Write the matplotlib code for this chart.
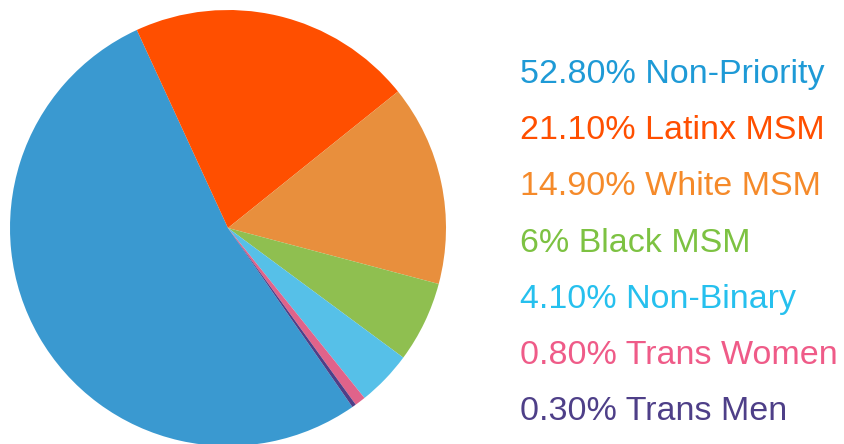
import matplotlib.pyplot as plt

labels = ["Non-Priority", "Latinx MSM", "White MSM", "Black MSM",
          "Non-Binary", "Trans Women", "Trans Men"]
values = [52.8, 21.1, 14.9, 6.0, 4.1, 0.8, 0.3]
pct_text = ["52.80%", "21.10%", "14.90%", "6%", "4.10%", "0.80%", "0.30%"]
slice_colors = ["#3a99d0", "#ff4f00", "#e88f3d", "#8fbf50",
                "#56c0e8", "#e0638a", "#4e3f88"]
text_colors = ["#1e9ad6", "#ff4f00", "#f58a2a", "#7dc242",
               "#26c0ee", "#ef5b88", "#4e3f88"]

W, H = 845, 444
fig = plt.figure(figsize=(W / 100, H / 100), dpi=100)

# pie box in pixels: centre (228, 228), radius 218
cx, cy, r = 228, 228, 218
ax = fig.add_axes([(cx - r) / W, (H - cy - r) / H, 2 * r / W, 2 * r / H])
ax.pie(values, colors=slice_colors, startangle=-55.2, counterclock=False,
       radius=1.0, wedgeprops=dict(linewidth=0))
ax.set_xlim(-1, 1)
ax.set_ylim(-1, 1)
ax.set_aspect("equal")
ax.set_axis_off()

for i, (p, lab, c) in enumerate(zip(pct_text, labels, text_colors)):
    y_px = 83 + i * 56.2
    fig.text(520 / W, 1 - y_px / H, f"{p} {lab}", color=c,
             fontsize=24.5, family="Liberation Sans", va="baseline", ha="left")

fig.savefig("out.png", dpi=100)
